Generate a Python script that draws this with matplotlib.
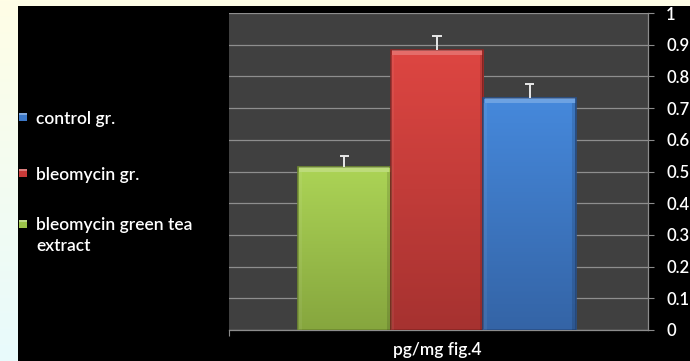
import numpy as np
import matplotlib
matplotlib.use("Agg")
import matplotlib.pyplot as plt
from matplotlib.patches import Rectangle
from matplotlib.colors import LinearSegmentedColormap

# Data
groups = ["bleomycin green tea extract", "bleomycin gr.", "control gr."]
values = [0.515, 0.884, 0.732]
errors = [0.035, 0.045, 0.043]
legend_order = ["control gr.", "bleomycin gr.", "bleomycin green tea\nextract"]
yticks = [0, 0.1, 0.2, 0.3, 0.4, 0.5, 0.6, 0.7, 0.8, 0.9, 1]
ytick_labels = ["0", "0.1", "0.2", "0.3", "0.4", "0.5", "0.6", "0.7", "0.8", "0.9", "1"]
xlabel = "pg/mg fig.4"

# Styling: (top, bottom) gradient colours per bar
bar_colors = {
    "bleomycin green tea extract": ("#acd456", "#86a63e"),
    "bleomycin gr.": ("#de4642", "#a63230"),
    "control gr.": ("#4689dc", "#3464a6"),
}
edge_colors = {
    "bleomycin green tea extract": "#6f8a30",
    "bleomycin gr.": "#8a2624",
    "control gr.": "#2a5088",
}
legend_colors = {
    "control gr.": "#3c78c8",
    "bleomycin gr.": "#c83a38",
    "bleomycin green tea\nextract": "#9cc44a",
}

plt.rcParams["font.family"] = ["Lato", "DejaVu Sans"]
TEXT_WEIGHT = "semibold"

W, H, DPI = 690, 361, 100
fig = plt.figure(figsize=(W / DPI, H / DPI), dpi=DPI)

# Soft yellow-to-cyan page background
bg = fig.add_axes([0, 0, 1, 1], zorder=-10)
bg.set_axis_off()
grad = np.linspace(0, 1, 256).reshape(-1, 1)
bg_cmap = LinearSegmentedColormap.from_list("bg", ["#fffee6", "#e8fafc"])
bg.imshow(grad, aspect="auto", cmap=bg_cmap, extent=[0, 1, 0, 1], origin="upper")

# Black chart panel
fig.patches.append(Rectangle((18 / W, 0), 1 - 18 / W, 1 - 6 / H,
                             transform=fig.transFigure, facecolor="black",
                             edgecolor="none", zorder=-5))

ax = fig.add_axes([229 / W, 31 / H, (648 - 229) / W, (348 - 31) / H])
ax.set_facecolor("#404040")

x = np.arange(len(groups))
width = 1.0
xlim = (-1.244, 3.277)
ax.set_xlim(*xlim)
ax.set_ylim(0, 1)

bars = ax.bar(x, values, width=width, color="none", edgecolor="none", zorder=3)
for rect, name in zip(bars, groups):
    top, bottom = bar_colors[name]
    cmap = LinearSegmentedColormap.from_list(name, [top, bottom])
    x0, y0 = rect.get_x(), rect.get_y()
    w, h = rect.get_width(), rect.get_height()
    im = ax.imshow(grad, aspect="auto", cmap=cmap, origin="upper",
                   extent=[x0, x0 + w, y0, y0 + h], zorder=3)
    im.set_clip_path(rect)
    rect.set_edgecolor(edge_colors[name])
    rect.set_linewidth(1.2)
    rect.set_zorder(4)

# Bevel: light strip along the top, shaded strips on the sides
bevel = 0.016
side = 0.04
for xi, v in zip(x, values):
    ax.bar(xi, bevel, bottom=v - bevel, width=width * 0.97,
           color="white", alpha=0.22, edgecolor="none", zorder=5)
    ax.bar(xi + width / 2 - side / 2, v - bevel, width=side,
           color="black", alpha=0.12, edgecolor="none", zorder=5)
    ax.bar(xi - width / 2 + side / 2, v - bevel, width=side,
           color="white", alpha=0.06, edgecolor="none", zorder=5)

# Upper-only error bars (stem plus top cap)
cap_half = 0.05
tops = np.array(values) + np.array(errors)
ax.vlines(x, values, tops, color="#e8e8e8", linewidth=1.4, zorder=6)
ax.hlines(tops, x - cap_half, x + cap_half, color="#e8e8e8", linewidth=1.4, zorder=6)

ax.set_xlim(*xlim)
ax.set_ylim(0, 1)

# Axes styling
ax.yaxis.tick_right()
ax.set_yticks(yticks)
ax.set_yticklabels(ytick_labels, color="white", fontsize=12, fontweight=TEXT_WEIGHT)
ax.tick_params(axis="y", which="both", direction="out", length=4, width=0.8,
               color="#8c8c8c", pad=9)
ax.set_xticks([xlim[0]])
ax.set_xticklabels([""])
ax.tick_params(axis="x", length=4, width=0.8, color="#8c8c8c")
ax.yaxis.grid(True, color="#8e8e8e", linewidth=0.9, zorder=1)
ax.set_axisbelow(True)
for s in ["left", "top"]:
    ax.spines[s].set_visible(False)
for s in ["right", "bottom"]:
    ax.spines[s].set_color("#8c8c8c")
    ax.spines[s].set_linewidth(0.9)

# Category axis title under the plot
fig.text(437 / W, 1 - 355 / H, xlabel, color="white", fontsize=12.5,
         fontweight=TEXT_WEIGHT, ha="center", va="baseline")

# Legend drawn in the left part of the panel
leg_marker_top = [113, 169, 220]
leg_baseline = [124, 180, 230]
line_step = 21
for label, mt, bl in zip(legend_order, leg_marker_top, leg_baseline):
    c = legend_colors[label]
    fig.patches.append(Rectangle((19 / W, 1 - (mt + 8) / H), 8 / W, 8 / H,
                                 transform=fig.transFigure, facecolor=c,
                                 edgecolor="none", zorder=5))
    fig.patches.append(Rectangle((19 / W, 1 - (mt + 2) / H), 8 / W, 2 / H,
                                 transform=fig.transFigure, facecolor="white",
                                 alpha=0.35, edgecolor="none", zorder=6))
    for i, line in enumerate(label.split("\n")):
        fig.text(36 / W, 1 - (bl + i * line_step) / H, line, color="white",
                 fontsize=12.5, fontweight=TEXT_WEIGHT, va="baseline", ha="left")

fig.savefig("out.png", dpi=DPI)
